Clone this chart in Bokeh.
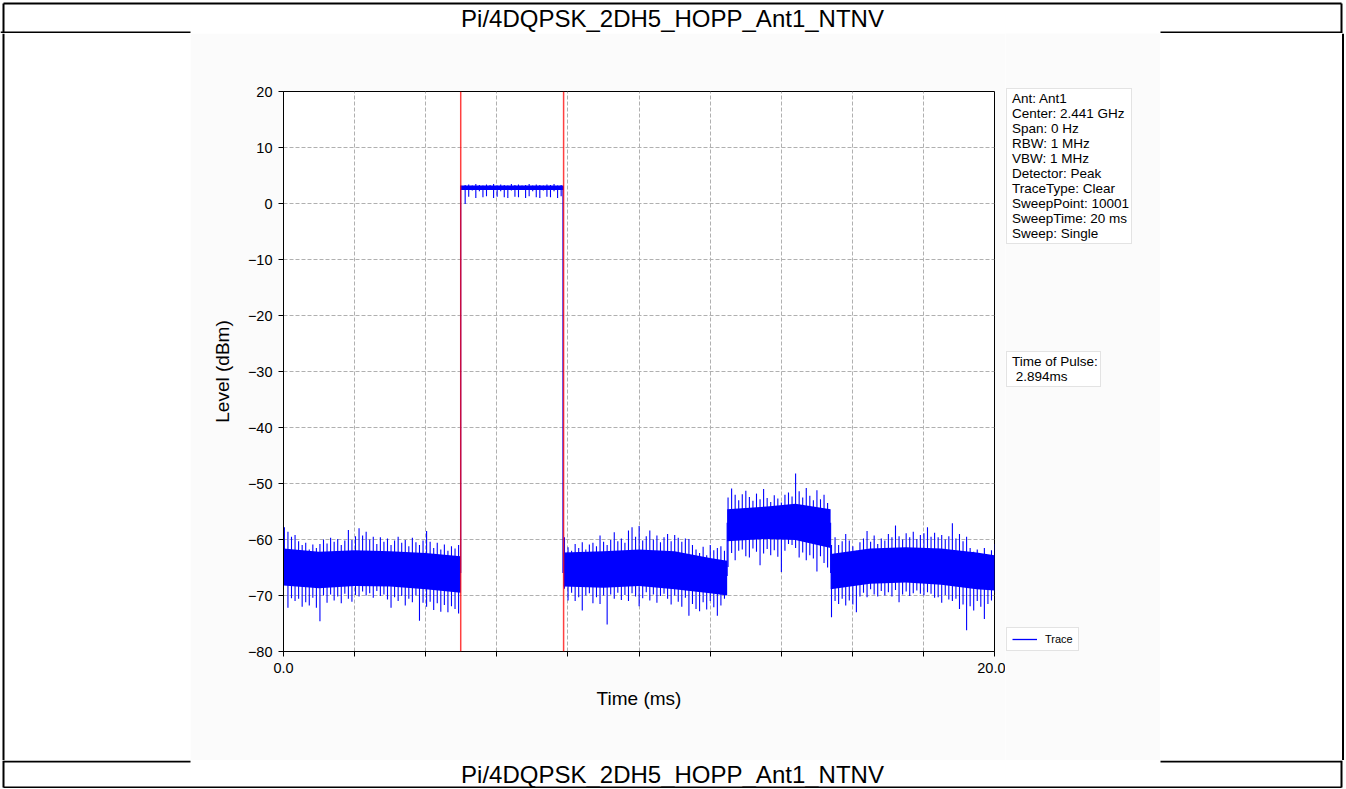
import numpy as np
from bokeh.plotting import figure
from bokeh.models import Range1d, FixedTicker, Legend, LegendItem, Span
from bokeh.layouts import column, row
from bokeh.embed import file_html
from bokeh.resources import INLINE
from bokeh.core.properties import value

FONT = "Liberation Sans"
TITLE = "Pi/4DQPSK_2DH5_HOPP_Ant1_NTNV"
X_LABEL = "Time (ms)"
Y_LABEL = "Level (dBm)"
INFO_LINES = ["Ant: Ant1", "Center: 2.441 GHz", "Span: 0 Hz", "RBW: 1 MHz", "VBW: 1 MHz",
              "Detector: Peak", "TraceType: Clear", "SweepPoint: 10001", "SweepTime: 20 ms",
              "Sweep: Single"]
PULSE_LINES = ["Time of Pulse:", " 2.894ms"]
TRACE_LABEL = "Trace"
Y_TICKS = [-80, -70, -60, -50, -40, -30, -20, -10, 0, 10, 20]
X_TICKS = [0, 2, 4, 6, 8, 10, 12, 14, 16, 18, 20]
X_TICK_LABELS = {0: "0.0", 20: "20.0"}
MARKERS_MS = [4.985, 7.879]
STEP_MS = 0.1

# segment start times (ms)
SEG_START = [0.0, 4.985, 7.879, 12.48, 15.39]

# per-0.1 ms column: upper (hi) and lower (lo) excursions, dBm
SEG_A_HI = [-57.8, -58.6, -59.5, -59.2, -60.3, -61.0, -60.6, -61.8, -60.9, -61.5,
            -60.8, -60.0, -60.7, -59.7, -60.4, -59.9, -61.0, -60.2, -58.3, -60.1,
            -59.4, -58.0, -59.3, -58.6, -60.0, -59.5, -60.8, -59.6, -60.4, -59.8,
            -61.0, -60.2, -59.5, -60.6, -60.1, -61.2, -59.7, -60.5, -61.0, -60.2,
            -58.5, -60.4, -61.5, -60.6, -61.8, -60.9, -62.0, -61.2, -61.6, -61.0]
SEG_A_LO = [-68.0, -72.2, -70.5, -71.0, -70.6, -72.0, -71.2, -71.8, -70.4, -72.2,
            -74.6, -70.0, -71.3, -69.8, -70.9, -70.2, -71.4, -69.7, -70.6, -71.1,
            -69.9, -70.2, -69.3, -70.0, -69.6, -70.4, -69.2, -70.1, -69.8, -70.7,
            -72.2, -70.3, -71.0, -70.1, -71.8, -70.6, -71.2, -70.0, -74.5, -71.3,
            -72.0, -71.1, -72.6, -71.4, -72.9, -71.7, -73.0, -71.9, -72.4, -73.2]
PULSE_HI = [3.1, 3.3, 3.4, 3.2, 3.5, 3.3, 3.2, 3.4, 3.3, 3.5, 3.2, 3.4, 3.3, 3.2, 3.5,
            3.3, 3.4, 3.2, 3.3, 3.5, 3.2, 3.4, 3.3, 3.2, 3.4, 3.3, 3.5, 3.2, 3.3]
PULSE_LO = [2.6, -0.1, 1.2, 2.3, 1.0, 2.2, 1.1, 1.3, 2.4, 1.0, 1.2, 2.2, 1.1, 1.0, 2.3,
            1.2, 1.1, 2.4, 1.0, 1.3, 2.2, 1.1, 1.0, 2.3, 1.2, 1.1, 2.2, 1.0, 1.3]
SEG_B_HI = [-59.6, -61.4, -62.0, -60.8, -61.5, -60.5, -61.8, -60.9, -60.6, -61.2,
            -59.3, -60.4, -61.0, -60.1, -58.7, -60.3, -59.8, -60.6, -58.4, -57.8,
            -59.5, -57.6, -60.2, -59.4, -58.4, -60.0, -59.3, -60.5, -59.6, -59.0,
            -60.3, -59.2, -59.7, -60.4, -59.8, -59.9, -61.0, -61.8, -62.4, -61.3,
            -62.8, -61.0, -61.9, -61.5, -61.2, -62.0]
SEG_B_LO = [-68.8, -70.9, -69.5, -71.0, -70.3, -72.7, -70.0, -69.6, -71.4, -70.3,
            -71.5, -70.0, -75.2, -69.8, -70.6, -69.5, -70.8, -69.9, -71.0, -69.6,
            -70.2, -71.9, -70.5, -69.4, -70.9, -69.8, -71.3, -70.1, -69.7, -70.6,
            -71.6, -70.0, -71.1, -72.0, -70.4, -73.6, -71.5, -72.4, -72.8, -71.2,
            -72.5, -71.0, -72.1, -73.6, -71.8, -70.6]
SEG_C_HI = [-52.5, -50.9, -52.0, -53.0, -51.9, -51.3, -52.4, -53.1, -51.8, -52.8,
            -51.0, -52.6, -53.3, -52.1, -52.7, -53.4, -52.0, -51.6, -52.3, -48.2,
            -51.4, -52.5, -50.8, -52.2, -53.0, -51.2, -52.8, -52.0, -53.5]
SEG_C_LO = [-64.9, -62.4, -63.7, -62.0, -61.8, -63.0, -63.2, -61.6, -62.2, -64.6,
            -62.5, -61.7, -62.8, -61.9, -63.1, -65.8, -62.0, -60.8, -61.0, -61.5,
            -63.2, -62.3, -63.7, -62.8, -63.4, -65.7, -63.0, -64.2, -65.0]
SEG_D_HI = [-61.0, -59.6, -61.0, -60.3, -59.0, -60.2, -61.2, -62.0, -60.5, -59.8,
            -58.5, -60.4, -59.3, -60.8, -59.8, -60.2, -59.0, -59.6, -57.5, -59.4,
            -60.0, -58.9, -59.6, -58.6, -59.9, -59.2, -58.9, -57.8, -59.5, -58.8,
            -59.6, -59.2, -60.0, -59.4, -57.1, -59.8, -59.0, -60.3, -59.5, -61.5,
            -62.2, -61.8, -62.6, -61.5, -63.0, -61.9, -60.8]
SEG_D_LO = [-73.9, -71.0, -71.5, -70.6, -71.8, -70.9, -71.6, -73.0, -70.2, -69.5,
            -70.3, -68.9, -69.8, -70.2, -69.2, -70.0, -69.4, -70.2, -69.0, -71.2,
            -69.8, -69.3, -70.1, -69.6, -69.1, -69.7, -70.0, -69.4, -69.7, -70.4,
            -70.3, -71.3, -69.9, -70.7, -71.0, -70.6, -72.4, -71.6, -76.2, -71.9,
            -72.7, -71.0, -72.0, -74.2, -71.5, -70.9, -69.5]

# transitions between segments (ms, from dBm, to dBm)
EDGE_T = [4.985, 7.86, 12.48, 15.39]
EDGE_FROM = [-66.0, 3.0, -66.5, -57.0]
EDGE_TO = [3.2, -66.0, -57.0, -66.0]

# dense core band of the trace (ms, dBm)
CORE_T = [[0.0, 1.0, 2.0, 3.0, 4.0, 4.985],
          [4.985, 7.879],
          [7.879, 9.0, 10.0, 11.0, 12.0, 12.48],
          [12.48, 13.6, 14.4, 15.39],
          [15.39, 16.5, 17.5, 18.5, 19.5, 20.0]]
CORE_HI = [[-61.6, -62.2, -61.9, -62.1, -62.4, -63.0],
           [3.2, 3.2],
           [-62.3, -62.1, -61.8, -62.1, -63.3, -63.8],
           [-54.6, -54.1, -53.6, -54.6],
           [-62.6, -61.6, -61.4, -61.6, -62.3, -62.8]]
CORE_LO = [[-68.2, -68.7, -68.3, -68.4, -68.9, -69.5],
           [2.4, 2.4],
           [-68.4, -68.6, -68.3, -68.9, -69.6, -70.0],
           [-60.3, -59.9, -60.1, -61.5],
           [-68.9, -67.9, -67.7, -68.1, -68.9, -69.1]]

SEG_HI = [SEG_A_HI, PULSE_HI, SEG_B_HI, SEG_C_HI, SEG_D_HI]
SEG_LO = [SEG_A_LO, PULSE_LO, SEG_B_LO, SEG_C_LO, SEG_D_LO]

col_t, col_hi, col_lo = [], [], []
for t0, his, los in zip(SEG_START, SEG_HI, SEG_LO):
    for k, (h, l) in enumerate(zip(his, los)):
        col_t.append(t0 + STEP_MS * k + STEP_MS / 4)
        col_hi.append(h)
        col_lo.append(l)

# ---------------- layout constants (page pixels) ----------------
W = 1344
TOP_H, MID_H, BOT_H = 33, 727, 28
LEFT_W = 190
CHART_W = 815
LEG_W = 155
RIGHT_W = W - LEFT_W - CHART_W - LEG_W
EDGE = 3
BORDER = 2
IMG_BG = "#fbfbfb"
BLUE = "#0000ff"


def unalign(f):
    if "frame_align" in f.properties():
        f.frame_align = False


def deco(w, h, bg="white"):
    f = figure(width=w, height=h, x_range=Range1d(0, w), y_range=Range1d(0, h),
               output_backend="svg", toolbar_location=None, x_axis_location=None,
               y_axis_location=None, min_border=0, min_border_left=0, min_border_right=0,
               min_border_top=0, min_border_bottom=0)
    f.grid.visible = False
    f.outline_line_color = None
    f.background_fill_color = bg
    f.border_fill_color = bg
    unalign(f)
    return f


IMG_R = LEFT_W + CHART_W + LEG_W

# top title strip
top = deco(W, TOP_H)
top.segment(x0=[EDGE, EDGE, W - EDGE, 0, IMG_R], y0=[TOP_H - EDGE, 0, 0, 1, 1],
            x1=[W - EDGE, EDGE, W - EDGE, LEFT_W, W - EDGE],
            y1=[TOP_H - EDGE, TOP_H - EDGE, TOP_H - EDGE, 1, 1],
            line_color="black", line_width=BORDER)
top.text(x=[W / 2], y=[TOP_H / 2 - 1], text=[TITLE], text_align="center",
         text_baseline="middle", text_font=value(FONT), text_font_size="24px",
         text_color="black")

# bottom title strip
bot = deco(W, BOT_H)
bot.segment(x0=[EDGE, EDGE, W - EDGE, EDGE, IMG_R], y0=[1, 1, 1, BOT_H - 1, BOT_H - 1],
            x1=[W - EDGE, EDGE, W - EDGE, LEFT_W, W - EDGE],
            y1=[1, BOT_H, BOT_H, BOT_H - 1, BOT_H - 1],
            line_color="black", line_width=BORDER)
bot.text(x=[W / 2], y=[BOT_H / 2], text=[TITLE], text_align="center",
         text_baseline="middle", text_font=value(FONT), text_font_size="24px",
         text_color="black")

left = deco(LEFT_W, MID_H)
left.segment(x0=[EDGE], y0=[0], x1=[EDGE], y1=[MID_H], line_color="black", line_width=BORDER)
right = deco(RIGHT_W, MID_H)
right.segment(x0=[RIGHT_W - 1.5], y0=[0], x1=[RIGHT_W - 1.5], y1=[MID_H],
              line_color="black", line_width=BORDER)

# ---------------- chart ----------------
p = figure(width=CHART_W, height=MID_H, x_range=Range1d(0, 20), y_range=Range1d(-80, 20),
           output_backend="svg", toolbar_location=None,
           min_border_left=93, min_border_right=11, min_border_top=58, min_border_bottom=109)
unalign(p)
p.background_fill_color = "white"
p.border_fill_color = IMG_BG
p.outline_line_color = "black"
p.outline_line_width = 1

for ct, ch, cl in zip(CORE_T, CORE_HI, CORE_LO):
    p.varea(x=ct, y1=cl, y2=ch, fill_color=BLUE, fill_alpha=1.0)
p.segment(x0=col_t, x1=col_t, y0=col_lo, y1=col_hi, line_color=BLUE, line_width=1.1)
p.segment(x0=EDGE_T, x1=EDGE_T, y0=EDGE_FROM, y1=EDGE_TO, line_color=BLUE, line_width=1.1)

for m in MARKERS_MS:
    p.add_layout(Span(location=m, dimension="height", line_color="red",
                      line_alpha=0.75, line_width=1.5))

p.xaxis.ticker = FixedTicker(ticks=X_TICKS)
p.yaxis.ticker = FixedTicker(ticks=Y_TICKS)
p.xaxis.major_label_overrides = {t: X_TICK_LABELS.get(t, "") for t in X_TICKS}
p.xaxis.axis_label = X_LABEL
p.yaxis.axis_label = Y_LABEL
for ax in (p.xaxis, p.yaxis):
    ax.major_tick_out = 5
    ax.major_tick_in = 0
    ax.minor_tick_out = 0
    ax.minor_tick_in = 0
    ax.axis_line_color = "black"
    ax.major_tick_line_color = "black"
    ax.major_label_text_font = FONT
    ax.major_label_text_font_size = "14.5px"
    ax.major_label_text_color = "black"
    ax.axis_label_text_font = FONT
    ax.axis_label_text_font_size = "19px"
    ax.axis_label_text_font_style = "normal"
    ax.axis_label_text_color = "black"
    ax.axis_label_standoff = 12
p.xaxis.major_label_standoff = 6
p.yaxis.major_label_standoff = 6

p.grid.grid_line_color = "#b0b0b0"
p.grid.grid_line_dash = "4 2"
p.grid.grid_line_width = 1

# ---------------- legend panel (right of the axes) ----------------
lf = deco(LEG_W, MID_H, IMG_BG)
blank = lf.line(x=[np.nan], y=[np.nan], line_alpha=0)
trace_key = lf.line(x=[np.nan], y=[np.nan], line_color=BLUE, line_width=1.3)


def text_legend(lines, loc):
    leg = Legend(items=[LegendItem(label=value(s), renderers=[blank]) for s in lines],
                 location=loc, glyph_width=0, glyph_height=15, label_height=15,
                 label_standoff=3, spacing=0, padding=2, margin=0,
                 label_text_font=FONT, label_text_font_size="13.5px",
                 label_text_color="black",
                 border_line_color="#c8c8c8", border_line_width=1,
                 background_fill_color="white", background_fill_alpha=0.85)
    lf.add_layout(leg, "center")


text_legend(INFO_LINES, (1, 516))
text_legend(PULSE_LINES, (1, 373))

trace_leg = Legend(items=[LegendItem(label=value(TRACE_LABEL), renderers=[trace_key])],
                   location=(1, 109), glyph_width=25, glyph_height=12, label_height=12,
                   label_standoff=8, spacing=0, padding=5, margin=0,
                   label_text_font=FONT, label_text_font_size="11px",
                   label_text_color="black",
                   border_line_color="#c8c8c8", border_line_width=1,
                   background_fill_color="white", background_fill_alpha=0.85)
lf.add_layout(trace_leg, "center")

layout = column(top, row(left, p, lf, right), bot)
open("out.html", "w").write(file_html(layout, INLINE))
